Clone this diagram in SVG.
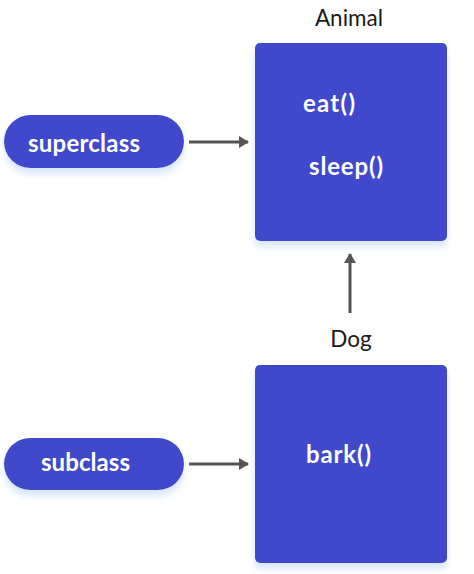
<svg xmlns="http://www.w3.org/2000/svg" width="474" height="574" viewBox="0 0 474 574">
<style>
.box{fill:#3f48cc}
.lbl{font-family:Lato,"Liberation Sans",sans-serif;font-size:22.5px;fill:#1a1a1a;text-anchor:middle}
.in{font-family:Lato,"Open Sans","Liberation Sans",sans-serif;font-size:24px;font-weight:bold;fill:#ffffff}
.conn{stroke:#555555;stroke-width:3;fill:none}
</style>
<defs>
<filter id="sh" x="-20%" y="-20%" width="140%" height="150%">
<feDropShadow dx="0" dy="6" stdDeviation="3" flood-color="#cfe0fa" flood-opacity="0.8"/>
</filter>
<marker id="ah" viewBox="0 0 10 12" refX="9" refY="6" markerWidth="10" markerHeight="12" markerUnits="userSpaceOnUse" orient="auto">
<path d="M0,0 L10,6 L0,12 Z" fill="#555555"/>
</marker>
</defs>
<g id="connectors">
<line class="conn" x1="189" y1="142" x2="248" y2="142" marker-end="url(#ah)"/>
<line class="conn" x1="189" y1="464" x2="248" y2="464" marker-end="url(#ah)"/>
<line class="conn" x1="350" y1="313" x2="350" y2="254" marker-end="url(#ah)"/>
</g>
<g id="superclass">
<rect class="box" x="4" y="115" width="180" height="53" rx="26.5" filter="url(#sh)"/>
<text class="in" x="28" y="152" textLength="112">superclass</text>
</g>
<g id="subclass">
<rect class="box" x="4" y="438" width="180" height="52" rx="26" filter="url(#sh)"/>
<text class="in" x="41" y="471" textLength="89">subclass</text>
</g>
<g id="animal">
<text class="lbl" x="349" y="26">Animal</text>
<rect class="box" x="255" y="43" width="192" height="198" rx="5" filter="url(#sh)"/>
<text class="in" x="303" y="112" textLength="52">eat()</text>
<text class="in" x="309" y="175" textLength="74">sleep()</text>
</g>
<g id="dog">
<text class="lbl" x="351" y="347">Dog</text>
<rect class="box" x="255" y="365" width="192" height="198" rx="5" filter="url(#sh)"/>
<text class="in" x="306" y="463" textLength="65">bark()</text>
</g>
</svg>
